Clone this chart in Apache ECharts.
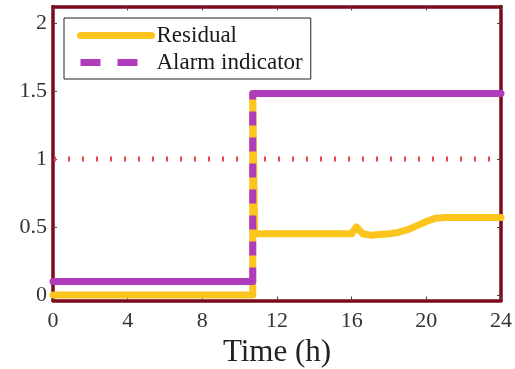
<!DOCTYPE html>
<html>
<head>
<meta charset="utf-8">
<script src="https://cdn.jsdelivr.net/npm/echarts@6/dist/echarts.min.js"></script>
<style>html,body{margin:0;padding:0;background:#fff}#c{width:515px;height:369px}</style>
</head>
<body>
<div id="c"></div>
<script>
const xTicks = [0, 4, 8, 12, 16, 20, 24];
const yTicks = [0, 0.5, 1, 1.5, 2];
const residualTime  = [0, 10.7, 10.7, 10.8, 16.0, 16.25, 16.6, 17.0, 18.0, 18.5, 19.0, 19.5, 20.0, 20.5, 21.0, 24];
const residualValue = [0, 0, 1.48, 0.45, 0.45, 0.50, 0.45, 0.44, 0.45, 0.46, 0.48, 0.51, 0.54, 0.565, 0.57, 0.57];
const alarmTime  = [0, 10.7, 10.7, 24];
const alarmValue = [0.1, 0.1, 1.48, 1.48];
const thresholdTime  = [0, 24];
const thresholdValue = [1, 1];

const FONT = 'Liberation Serif';
const FRAME = '#7a0a1c';
const YELLOW = '#fcc51e';
const PURPLE = '#b03cbb';
const pts = (t, v) => t.map((x, i) => [x, v[i]]);
const alarm = pts(alarmTime, alarmValue);
const alarmSolid = [alarm[0], alarm[1], '-', alarm[2], alarm[3]];
const alarmStep = [alarm[1], alarm[2]];

const chart = echarts.init(document.getElementById('c'));
const tickStyle = { show: true, inside: true, length: 4, lineStyle: { color: '#444', width: 1 } };
const lineStyleAxis = { show: true, onZero: false, lineStyle: { color: FRAME, width: 3.5 } };
chart.setOption({
  animation: false,
  grid: { left: 53, right: 14, top: 6.5, bottom: 68.5, containLabel: false, outerBoundsMode: 'none' },
  xAxis: [
    {
      type: 'value', min: 0, max: 24, interval: 4, position: 'bottom',
      axisLine: lineStyleAxis, axisTick: tickStyle, splitLine: { show: false },
      axisLabel: { fontFamily: FONT, fontSize: 22, color: '#333', margin: 10 },
      name: 'Time (h)', nameLocation: 'middle', nameGap: 37,
      nameTextStyle: { fontFamily: FONT, fontSize: 31, color: '#222' }
    },
    {
      type: 'value', min: 0, max: 24, interval: 4, position: 'top',
      axisLine: lineStyleAxis, axisTick: tickStyle, splitLine: { show: false },
      axisLabel: { show: false }
    }
  ],
  yAxis: [
    {
      type: 'value', min: -0.04, max: 2.12, position: 'left',
      axisLine: lineStyleAxis, splitLine: { show: false },
      axisTick: { show: true, inside: true, length: 4, customValues: yTicks, lineStyle: { color: '#444', width: 1 } },
      axisLabel: { customValues: yTicks, fontFamily: FONT, fontSize: 22, color: '#333', margin: 6 }
    },
    {
      type: 'value', min: -0.04, max: 2.12, position: 'right',
      axisLine: lineStyleAxis, splitLine: { show: false },
      axisTick: { show: true, inside: true, length: 4, customValues: yTicks, lineStyle: { color: '#444', width: 1 } },
      axisLabel: { show: false }
    }
  ],
  legend: {
    show: true, left: 64, top: 18, orient: 'vertical',
    padding: [6, 8, 5, 13], itemGap: 4, itemWidth: 71, itemHeight: 14,
    borderColor: '#222', borderWidth: 1, backgroundColor: '#fff',
    textStyle: { fontFamily: FONT, fontSize: 23, color: '#1a1a1a', lineHeight: 22 },
    data: [
      { name: 'Residual', itemStyle: { opacity: 0 }, lineStyle: { width: 7, color: YELLOW, cap: 'round' } },
      { name: 'Alarm indicator', itemStyle: { opacity: 0 }, lineStyle: { width: 7, color: PURPLE, type: [20, 17] } }
    ]
  },
  series: [
    {
      name: 'Threshold', type: 'line', data: pts(thresholdTime, thresholdValue),
      symbol: 'none', silent: true, itemStyle: { color: '#e8424c' },
      lineStyle: { color: '#e8424c', width: 5, type: [2, 12], dashOffset: -1 }
    },
    {
      name: 'Residual', type: 'line', data: pts(residualTime, residualValue),
      symbol: 'none', itemStyle: { color: YELLOW },
      lineStyle: { color: YELLOW, width: 7, cap: 'round', join: 'round' }, z: 3
    },
    {
      name: 'AlarmSolid', type: 'line', data: alarmSolid, symbol: 'none', connectNulls: false,
      itemStyle: { color: PURPLE },
      lineStyle: { color: PURPLE, width: 7, cap: 'round', join: 'round' }, z: 4
    },
    {
      name: 'Alarm indicator', type: 'line', data: alarmStep, symbol: 'none',
      itemStyle: { color: PURPLE },
      lineStyle: { color: PURPLE, width: 7, type: [14, 12] }, z: 4
    }
  ]
});
</script>
</body>
</html>
